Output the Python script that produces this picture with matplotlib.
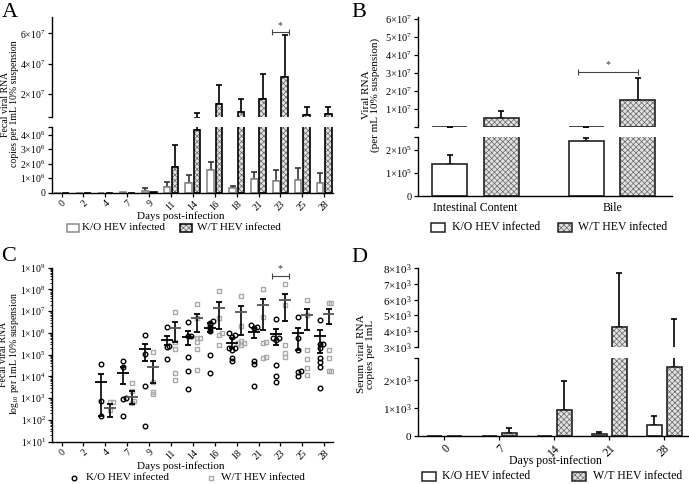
import numpy as np
import matplotlib
matplotlib.use('Agg')
import matplotlib.pyplot as plt
from matplotlib.patches import Rectangle
from matplotlib.lines import Line2D

plt.rcParams['font.family'] = 'Liberation Serif'
plt.rcParams['mathtext.fontset'] = 'custom'
plt.rcParams['mathtext.rm'] = 'Liberation Serif'
plt.rcParams['mathtext.it'] = 'Liberation Serif:italic'
plt.rcParams['hatch.linewidth'] = 0.5

W, H = 689, 484

# ---- panel A: fecal viral RNA (bars, broken axis)
days_a = ['0', '2', '4', '7', '9', '11', '14', '16', '18', '21', '23', '25', '28']
ko_a = [0, 0, 1e4, 2e4, 1.2e5, 4.1e5, 6.9e5, 1.57e6, 3e5, 9.2e5, 8.1e5, 8.8e5, 6.9e5]
ko_a_top = [0, 0, 0, 0, 3e5, 7.6e5, 1.22e6, 2.14e6, 4.8e5, 1.4e6, 1.57e6, 1.72e6, 1.34e6]
wt_a = [0, 0, 0, 1e4, 5e4, 1.8e6, 4.3e6, 1.35e7, 8.4e6, 1.7e7, 3.1e7, 6.4e6, 7.1e6]
wt_a_top = [0, 0, 0, 0, 0, 3.3e6, 7.7e6, 2.58e7, 1.68e7, 3.3e7, 5.9e7, 1.15e7, 1.15e7]

# ---- panel B: intestinal content / bile
groups_b = ['Intestinal Content', 'Bile']
ko_b = [1.38e5, 2.4e5]
ko_b_top = [1.8e5, 2.5e5]
wt_b = [5.2e6, 1.5e7]
wt_b_top = [9.1e6, 2.7e7]

# ---- panel C: individual fecal values (log10 copies)
days_c = [0, 2, 4, 7, 9, 11, 14, 16, 18, 21, 23, 25, 28]
ko_c_day = [4, 4, 4, 7, 7, 7, 7, 7, 9, 9, 9, 9, 11, 11, 11, 11,
            14, 14, 14, 14, 14, 14, 16, 16, 16, 16, 16, 16, 16,
            18, 18, 18, 18, 18, 18, 18, 18, 21, 21, 21, 21, 21, 21,
            23, 23, 23, 23, 23, 23, 23, 25, 25, 25, 25, 25, 25,
            28, 28, 28, 28, 28, 28, 28, 28]
ko_c_log = [4.57, 2.88, 2.18, 4.71, 4.45, 2.99, 2.95, 2.18, 5.90, 5.02, 3.57, 1.74,
            6.26, 5.41, 5.34, 4.79,
            6.49, 5.87, 5.87, 4.91, 4.25, 3.42, 6.55, 6.47, 6.35, 6.24, 6.09, 4.98, 4.17,
            5.98, 5.90, 5.83, 5.32, 5.29, 5.21, 4.83, 4.71, 6.36, 6.29, 6.21, 4.71, 4.56, 3.56,
            6.64, 5.75, 5.75, 5.67, 4.52, 4.03, 3.76, 6.72, 5.75, 5.21, 4.26, 4.19, 4.03,
            6.59, 5.48, 5.48, 5.29, 4.86, 4.65, 4.45, 3.48]
wt_c_day = [4, 4, 4, 7, 7, 7, 7, 9, 9, 9, 9, 11, 11, 11, 11, 11,
            14, 14, 14, 14, 14, 14, 14, 16, 16, 16, 16, 16,
            18, 18, 18, 18, 18, 18, 21, 21, 21, 21, 21, 21,
            23, 23, 23, 23, 23, 25, 25, 25, 25, 25, 25, 28, 28, 28, 28, 28, 28]
wt_c_log = [2.84, 2.82, 2.45, 3.68, 3.34, 2.76, 2.85, 5.14, 3.73, 3.30, 3.18,
            6.95, 5.60, 5.26, 4.14, 3.84,
            7.31, 6.67, 5.75, 5.75, 5.57, 5.26, 4.29, 7.93, 6.70, 5.98, 5.90, 5.44,
            7.70, 6.33, 5.63, 5.52, 5.52, 5.44, 8.02, 6.75, 5.60, 5.52, 4.91, 4.83,
            8.25, 7.28, 5.44, 5.06, 4.91, 7.51, 6.82, 5.21, 4.80, 4.37, 4.07,
            7.36, 7.36, 5.21, 4.83, 4.25, 4.25]
stat_days = [4, 7, 9, 11, 14, 16, 18, 21, 23, 25, 28]
ko_c_mean = [3.76, 4.14, 5.25, 5.67, 5.83, 6.24, 5.52, 6.03, 5.93, 5.98, 5.86]
ko_c_lo = [2.18, 3.64, 4.71, 5.44, 5.44, 6.03, 5.29, 5.78, 5.44, 5.21, 5.06]
ko_c_hi = [4.10, 4.45, 5.47, 5.86, 6.09, 6.44, 5.75, 6.21, 6.18, 6.24, 6.13]
wt_c_mean = [2.53, 3.07, 4.45, 6.24, 6.67, 7.13, 6.95, 7.28, 7.51, 6.82, 6.85]
wt_c_lo = [2.15, 2.75, 3.70, 5.60, 6.03, 6.18, 5.90, 6.13, 6.56, 6.13, 6.39]
wt_c_hi = [2.75, 3.34, 4.71, 6.52, 6.88, 7.44, 7.24, 7.56, 7.77, 7.08, 7.08]

# ---- panel D: serum viral RNA
days_d = ['0', '7', '14', '21', '28']
ko_d = [0, 0, 0, 60, 390]
ko_d_top = [0, 0, 0, 150, 730]
wt_d = [0, 120, 930, 4270, 2450]
wt_d_top = [0, 290, 1950, 7680, 4770]

fig = plt.figure(figsize=(W / 100, H / 100), dpi=100)


def px_ax(x0, y0, x1, y1):
    return fig.add_axes([x0 / W, 1 - y1 / H, (x1 - x0) / W, (y1 - y0) / H])


def sci(v):
    if v == 0:
        return '0'
    e = int(np.floor(np.log10(v) + 1e-9))
    m = int(round(v / 10 ** e))
    return rf'${m}{{\times}}10^{{{e}}}$'


def set_ticks(ax, ticks, blank=()):
    allt = sorted(list(ticks) + list(blank))
    ax.set_yticks(allt)
    ax.set_yticklabels(['' if t in blank else sci(t) for t in allt])


def style(ax, bottom=True, size=7):
    ax.spines['top'].set_visible(False)
    ax.spines['right'].set_visible(False)
    ax.spines['left'].set_linewidth(1.0)
    ax.spines['bottom'].set_linewidth(1.0)
    if not bottom:
        ax.spines['bottom'].set_visible(False)
        ax.tick_params(axis='x', bottom=False, labelbottom=False)
    ax.tick_params(labelsize=size, length=3, width=0.9, pad=1.5)
    ax.patch.set_alpha(0)


def bars(ax, x, vals, tops, width, hatched, edge, ecol='black'):
    vals = np.asarray(vals, float)
    err = np.asarray(tops, float) - vals
    if hatched:
        ax.bar(x, vals, width, color='#e2e2e2', edgecolor='#666666', hatch='xxxxxx',
               linewidth=0, zorder=2)
        ax.bar(x, vals, width, fill=False, edgecolor=edge, linewidth=1.2, zorder=3)
    else:
        ax.bar(x, vals, width, color='white', edgecolor=edge, linewidth=1.2, zorder=2)
    m = err > 0
    ax.errorbar(x[m], vals[m], yerr=[np.zeros(m.sum()), err[m]], fmt='none', ecolor=ecol,
                elinewidth=1.2, capsize=2.5, capthick=1.2, zorder=1)


def sig(ax, xc, half, y, ystar):
    ax.errorbar([xc], [y], xerr=[[half], [half]], fmt='none', ecolor='#444444',
                elinewidth=0.8, capsize=2, capthick=0.8, clip_on=False)
    ax.text(xc, ystar, '*', ha='center', va='center', fontsize=7, color='#333333')


def rot_labels(ax, labels, size=7):
    ax.set_xticklabels(labels, rotation=45, ha='right', va='top', rotation_mode='anchor',
                       fontsize=size)


def legend_box(x0, y0, x1, y1, hatched, edge='black'):
    if hatched:
        fig.add_artist(Rectangle((x0 / W, 1 - y1 / H), (x1 - x0) / W, (y1 - y0) / H,
                                 transform=fig.transFigure, facecolor='#e2e2e2',
                                 edgecolor='#666666', hatch='xxxxxx', linewidth=0))
        fig.add_artist(Rectangle((x0 / W, 1 - y1 / H), (x1 - x0) / W, (y1 - y0) / H,
                                 transform=fig.transFigure, fill=False,
                                 edgecolor=edge, linewidth=1.1))
    else:
        fig.add_artist(Rectangle((x0 / W, 1 - y1 / H), (x1 - x0) / W, (y1 - y0) / H,
                                 transform=fig.transFigure, facecolor='white',
                                 edgecolor=edge, linewidth=1.1))


def ftext(x, y, s, **kw):
    kw.setdefault('fontsize', 8)
    fig.text(x / W, 1 - y / H, s, **kw)


# ================= A
xa = np.arange(len(days_a))
axA1 = px_ax(52, 17.3, 333, 116.7)
axA2 = px_ax(52, 126.7, 333, 192.7)
for ax in (axA1, axA2):
    bars(ax, xa - 0.19, ko_a, ko_a_top, 0.3, False, '#8a8a8a', ecol='#333333')
    bars(ax, xa + 0.19, wt_a, wt_a_top, 0.3, True, 'black')
    ax.set_xlim(-0.434, 12.4)
axA1.set_ylim(5e6, 7.06e7)
axA2.set_ylim(0, 4.55e6)
style(axA1, bottom=False)
style(axA2)
set_ticks(axA1, [2e7, 4e7, 6e7], blank=[5e6])
set_ticks(axA2, [0, 1e6, 2e6, 3e6, 4e6], blank=[4.55e6])
axA2.set_xticks(xa)
rot_labels(axA2, days_a)
sig(axA1, 10, 0.38, 6.1e7, 6.5e7)
ftext(2, 3, 'A', fontsize=16, va='top')
ftext(10.5, 104, 'Fecal viral RNA\ncopies per 1mL 10% suspension', rotation=90,
      ha='center', va='center', fontsize=7, linespacing=1.0)
ftext(181, 216.5, 'Days post-infection', ha='center', va='center')
legend_box(67, 224.5, 78.5, 232, False, '#8a8a8a')
ftext(82, 228, 'K/O HEV infected', va='center')
legend_box(180, 224.5, 191.5, 232, True)
ftext(197, 228, 'W/T HEV infected', va='center')

# ================= B
xb = np.arange(len(groups_b))
axB1 = px_ax(417.7, 16.7, 671.7, 126.7)
axB2 = px_ax(417.7, 137.3, 671.7, 196)
for ax in (axB1, axB2):
    bars(ax, xb - 0.188, ko_b, ko_b_top, 0.256, False, '#222222')
    bars(ax, xb + 0.188, wt_b, wt_b_top, 0.256, True, '#222222')
    ax.set_xlim(-0.423, 1.437)
axB1.set_ylim(2e5, 6.13e7)
axB2.set_ylim(0, 2.55e5)
style(axB1, bottom=False, size=7.5)
style(axB2, size=7.5)
set_ticks(axB1, [1e7, 2e7, 3e7, 4e7, 5e7, 6e7], blank=[2e5])
set_ticks(axB2, [0, 1e5, 2e5], blank=[2.55e5])
axB2.set_xticks(xb)
axB2.set_xticklabels(groups_b, fontsize=8.5)
axB2.tick_params(axis='x', length=0, pad=4)
sig(axB1, 0.97, 0.22, 3.07e7, 3.45e7)
ftext(351, 3, 'B', fontsize=16, va='top')
ftext(371, 95, 'Viral RNA\n(per mL 10% suspension)', rotation=90,
      ha='center', va='center', fontsize=8, linespacing=1.05)
legend_box(431, 222.7, 445, 231.5, False, '#222222')
ftext(452, 227.5, 'K/O HEV infected', va='center', fontsize=8.5)
legend_box(558, 222.7, 572, 231.5, True, '#222222')
ftext(578, 227.5, 'W/T HEV infected', va='center', fontsize=8.5)

# ================= C
axC = px_ax(52, 267.7, 333, 441.7)
axC.set_yscale('log')
axC.set_ylim(10, 1e9)
axC.set_xlim(-0.434, 12.4)
style(axC)
axC.set_yticks([10.0 ** k for k in range(1, 10)])
axC.set_yticklabels([rf'$1{{\times}}10^{{{k}}}$' for k in range(1, 10)])
axC.tick_params(axis='y', which='minor', length=1.8, width=0.6)
pos = {d: i for i, d in enumerate(days_c)}


def scatter_group(days, logs, shift, marker, color):
    days = np.asarray(days)
    logs = np.asarray(logs)
    for d in np.unique(days):
        v = logs[days == d]
        offs = np.zeros(len(v))
        order = np.argsort(v)
        prev, k = None, 0
        for i in order:
            k = k + 1 if prev is not None and abs(v[i] - prev) < 0.1 else 0
            offs[i] = [0, 0.13, -0.13, 0.26][k % 4]
            prev = v[i]
        axC.plot(pos[d] + shift + offs, 10.0 ** v, linestyle='none', marker=marker,
                 ms=3.3, mfc='none', mec=color, mew=1.0, zorder=3)


def mean_err(mean, lo, hi, shift, color):
    x = np.array([pos[d] for d in stat_days]) + shift
    m = 10.0 ** np.asarray(mean)
    axC.errorbar(x, m, yerr=[m - 10.0 ** np.asarray(lo), 10.0 ** np.asarray(hi) - m],
                 fmt='_', color=color, ecolor='black', ms=8, mew=1.3, elinewidth=1.2,
                 capsize=2.5, capthick=1.2, zorder=4)


scatter_group(ko_c_day, ko_c_log, -0.2, 'o', 'black')
scatter_group(wt_c_day, wt_c_log, 0.2, 's', '#a9a9a9')
mean_err(ko_c_mean, ko_c_lo, ko_c_hi, -0.2, 'black')
mean_err(wt_c_mean, wt_c_lo, wt_c_hi, 0.2, '#555555')
axC.set_xticks(np.arange(len(days_c)))
rot_labels(axC, [str(d) for d in days_c])
sig(axC, 10, 0.38, 10 ** 8.63, 10 ** 8.95)
ftext(1, 247, 'C', fontsize=16, va='top')
ftext(10.5, 354, 'Fecal viral RNA\n' + r'log$_{10}$ per 1mL 10% suspension', rotation=90,
      ha='center', va='center', fontsize=7, linespacing=1.0)
ftext(181, 466.5, 'Days post-infection', ha='center', va='center')
fig.add_artist(Line2D([74 / W], [1 - 478 / H], transform=fig.transFigure, marker='o',
                      ms=3.3, mfc='none', mec='black', mew=1.0, linestyle='none'))
ftext(86, 478, 'K/O HEV infected', va='center')
fig.add_artist(Line2D([210.7 / W], [1 - 478 / H], transform=fig.transFigure, marker='s',
                      ms=3.3, mfc='none', mec='#a9a9a9', mew=1.0, linestyle='none'))
ftext(221, 478, 'W/T HEV infected', va='center')

# ================= D
xd = np.arange(len(days_d))
axD1 = px_ax(417.7, 268.3, 688, 346.7)
axD2 = px_ax(417.7, 358.3, 688, 436)
for ax in (axD1, axD2):
    bars(ax, xd - 0.18, ko_d, ko_d_top, 0.27, False, '#222222')
    bars(ax, xd + 0.19, wt_d, wt_d_top, 0.27, True, '#222222')
    ax.set_xlim(-0.478, 4.436)
axD1.set_ylim(3e3, 8e3)
axD2.set_ylim(0, 2.77e3)
style(axD1, bottom=False, size=8)
style(axD2, size=8)
set_ticks(axD1, [3e3, 4e3, 5e3, 6e3, 7e3, 8e3])
set_ticks(axD2, [0, 1e3, 2e3], blank=[2.77e3])
axD2.set_xticks(xd)
rot_labels(axD2, days_d, size=8.5)
ftext(351, 248, 'D', fontsize=16, va='top')
ftext(366, 354, 'Serum viral RNA\ncopies per 1mL', rotation=90,
      ha='center', va='center', fontsize=8, linespacing=1.0)
ftext(555, 461, 'Days post-infection', ha='center', va='center', fontsize=8.5)
legend_box(421.7, 472, 435.7, 480.5, False, '#222222')
ftext(442, 476.3, 'K/O HEV infected', va='center', fontsize=8.5)
legend_box(571.7, 472, 585.7, 480.5, True, '#222222')
ftext(593, 476.3, 'W/T HEV infected', va='center', fontsize=8.5)

fig.savefig('out.png', dpi=100)
